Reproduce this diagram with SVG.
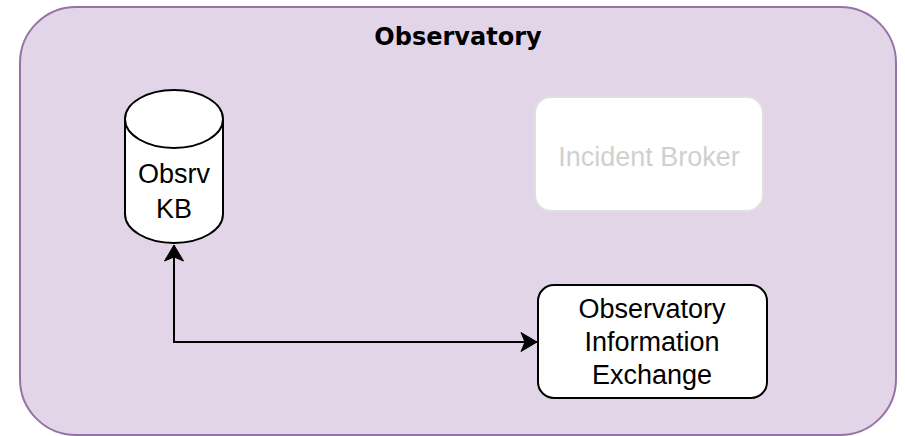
<svg xmlns="http://www.w3.org/2000/svg" width="905" height="436" viewBox="0 0 905 436">
  <style>
    .lbl { font-family: "Liberation Sans", Arial, sans-serif; font-size: 27px; text-anchor: middle; fill: #000; }
    .title { font-family: "DejaVu Sans", "Liberation Sans", sans-serif; font-size: 24px; font-weight: bold; text-anchor: middle; fill: #000; }
    .faded { fill: #d0d0d0; }
    .conn { fill: none; stroke: #000; stroke-width: 2; }
  </style>
  <defs>
    <marker id="arrow" markerUnits="userSpaceOnUse" markerWidth="20" markerHeight="20" viewBox="0 0 18 20" refX="16" refY="10" orient="auto-start-reverse">
      <path d="M0,0.5 L16,10 L0,19.5 L4,10 Z" fill="#000" stroke="#000" stroke-width="1"/>
    </marker>
  </defs>
  <g id="observatory">
    <rect x="20" y="7" width="876" height="428" rx="56" ry="56" fill="#e1d5e7" stroke="#9673a6" stroke-width="2"/>
    <text class="title" x="458" y="45">Observatory</text>
  </g>
  <g id="obsrv-kb">
    <path d="M125,119 L125,214 A49,29 0 0 0 223,214 L223,119" fill="#fff" stroke="#000" stroke-width="2"/>
    <ellipse cx="174" cy="119" rx="49" ry="29" fill="#fff" stroke="#000" stroke-width="2"/>
    <text class="lbl" x="174" y="183">Obsrv</text>
    <text class="lbl" x="174" y="218">KB</text>
  </g>
  <g id="incident-broker">
    <rect x="535" y="97" width="228" height="114" rx="16" ry="16" fill="#fff" stroke="#e0e0e0" stroke-width="2"/>
    <text class="lbl faded" x="649" y="166">Incident Broker</text>
  </g>
  <g id="observatory-information-exchange">
    <rect x="538" y="285" width="229" height="113" rx="16" ry="16" fill="#fff" stroke="#000" stroke-width="2"/>
    <text class="lbl" x="652" y="318">Observatory</text>
    <text class="lbl" x="652" y="351">Information</text>
    <text class="lbl" x="652" y="384">Exchange</text>
  </g>
  <g id="connectors">
    <path class="conn" d="M174,245 L174,342 L537,342" marker-start="url(#arrow)" marker-end="url(#arrow)"/>
  </g>
</svg>
